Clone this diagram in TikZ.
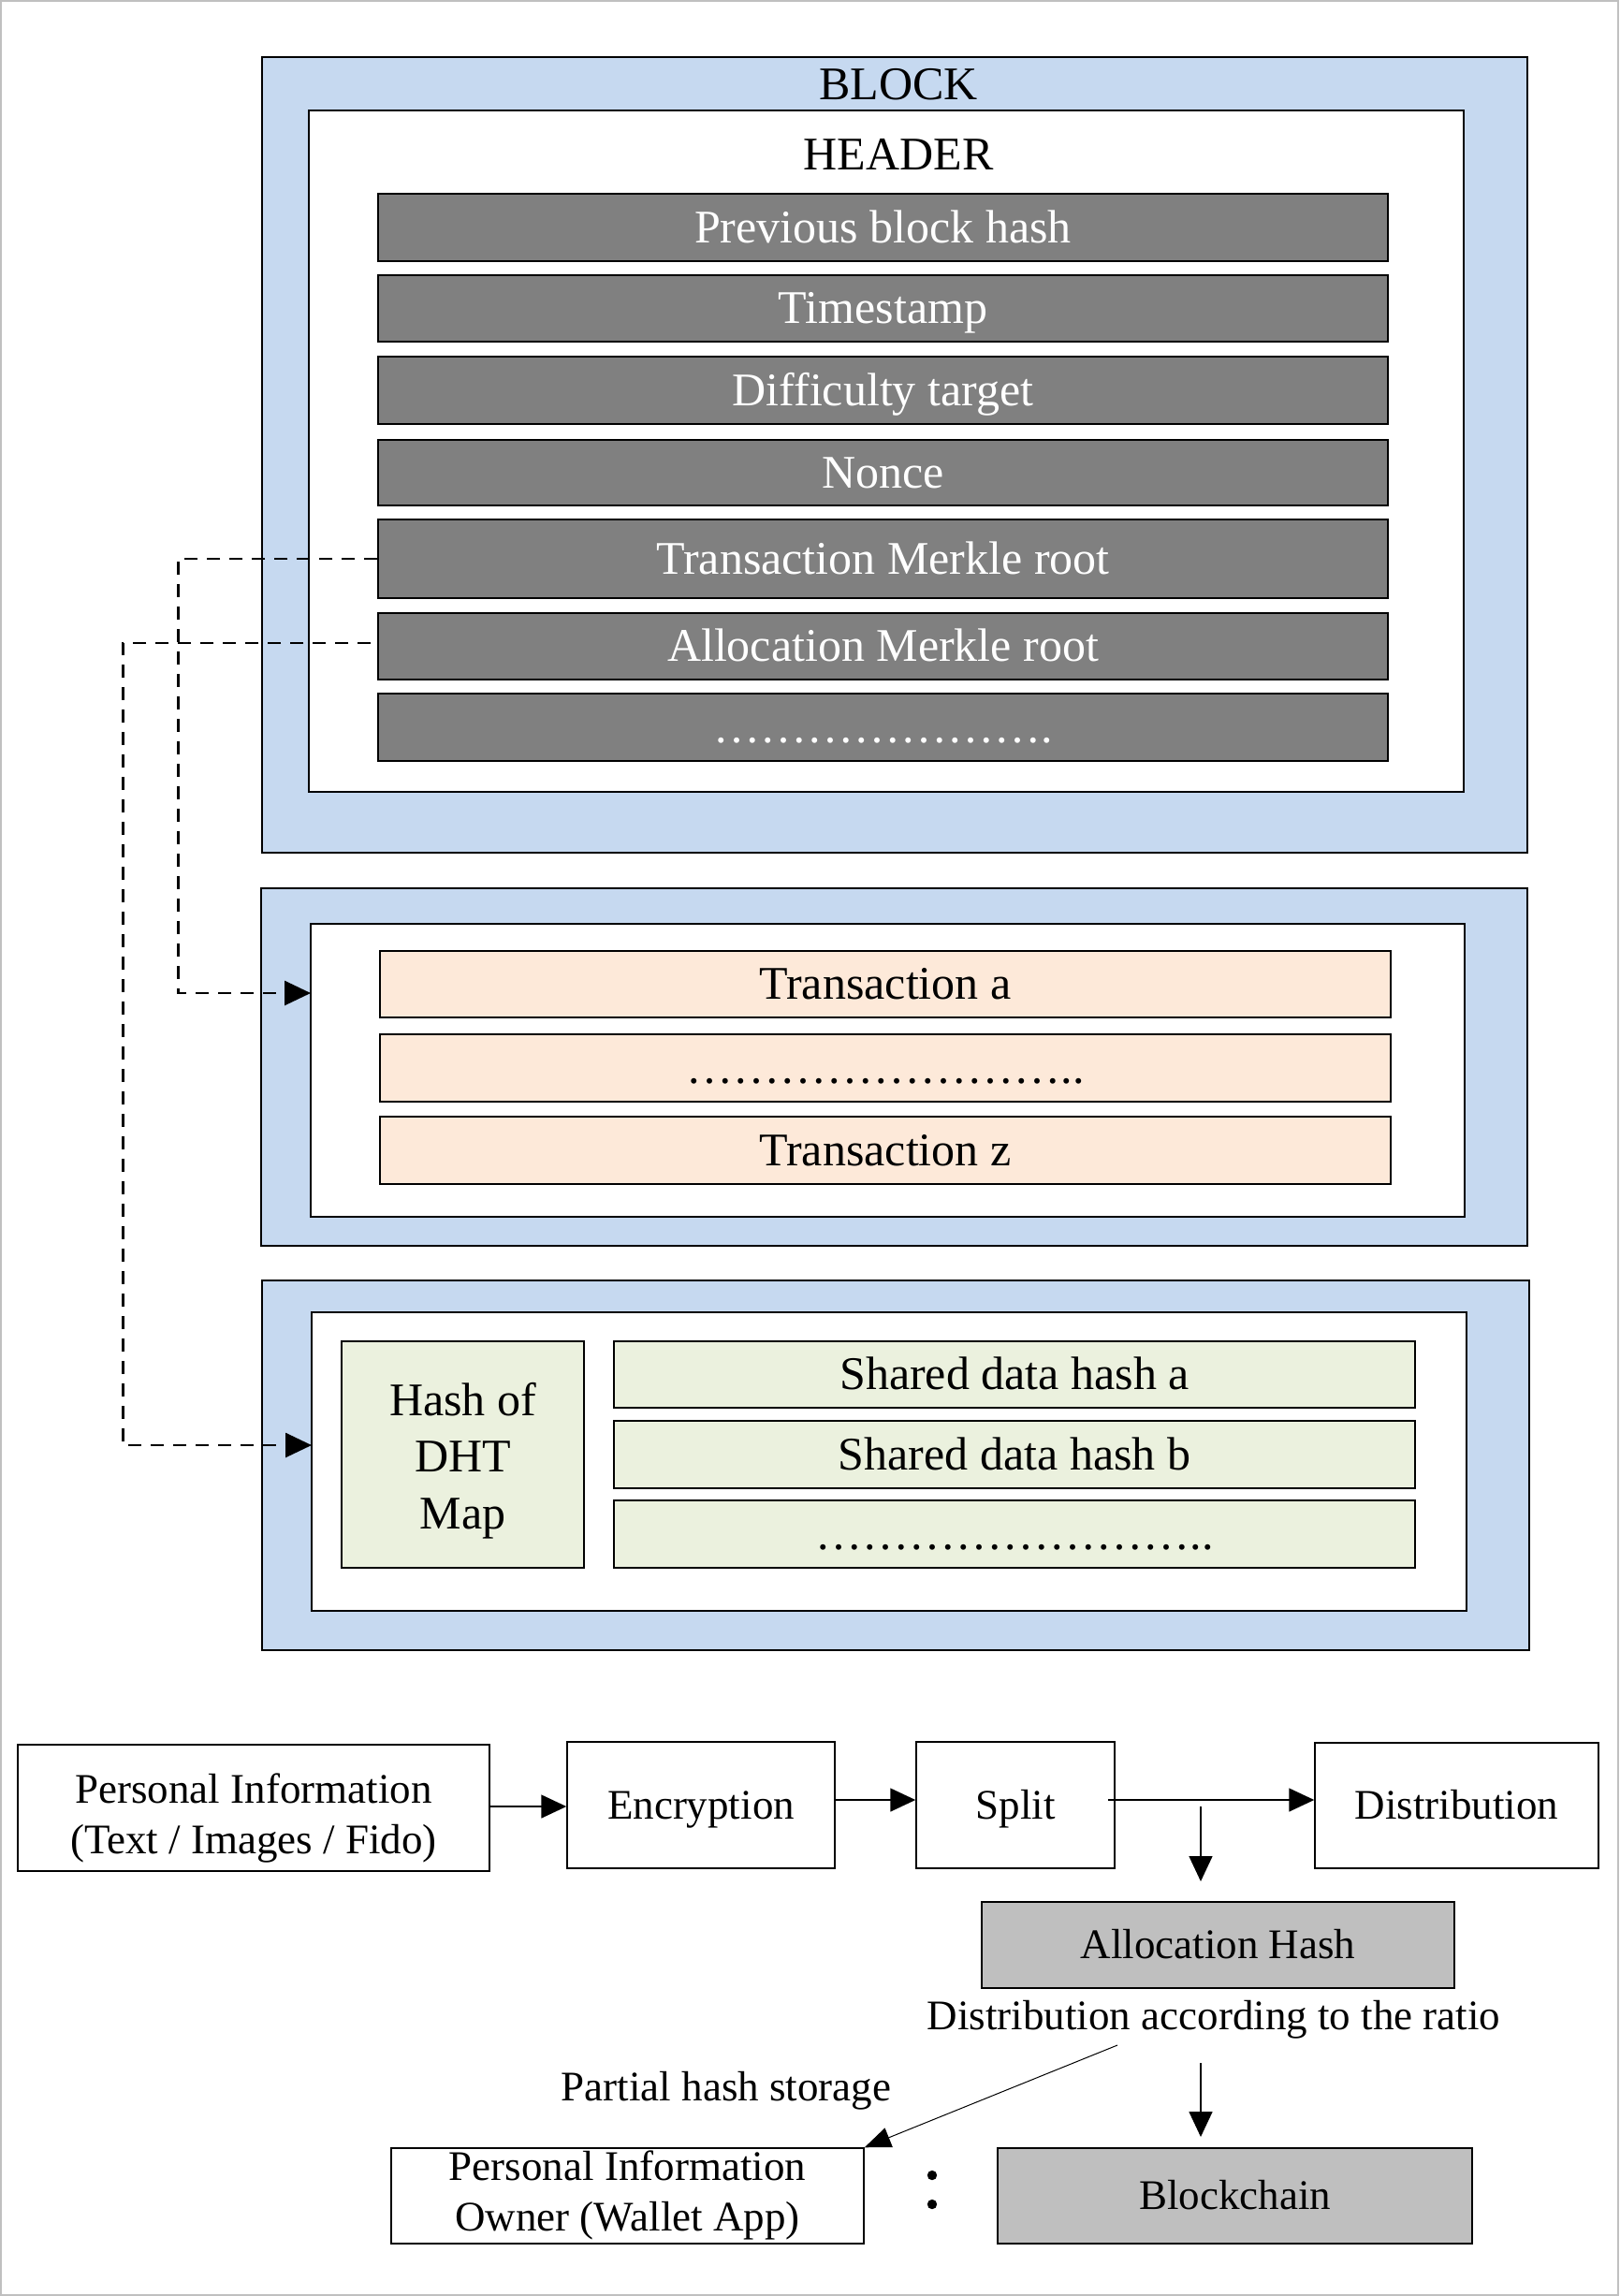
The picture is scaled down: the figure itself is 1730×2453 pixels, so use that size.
\documentclass[tikz,border=0pt]{standalone}
\usepackage{fontspec}
\setmainfont{Liberation Serif}
\usetikzlibrary{arrows.meta}
\definecolor{blockblue}{HTML}{C6D9F0}
\definecolor{rowgray}{HTML}{808080}
\definecolor{txorange}{HTML}{FDE9D9}
\definecolor{shgreen}{HTML}{EBF1DE}
\definecolor{boxgray}{HTML}{BFBFBF}
\definecolor{framegray}{HTML}{C0C0C0}
\newcommand{\myell}{\char"2026}
\begin{document}
\begin{tikzpicture}[x=0.5pt,y=-0.5pt,
 bigfont/.style={font=\fontsize{25}{30}\selectfont},
 smallfont/.style={font=\fontsize{22.5}{27}\selectfont},
 bigcap/.style={text height=16.4pt,text depth=0pt},
 smallcap/.style={text height=14.7pt,text depth=0pt},
 frame/.style={draw,line width=0.75pt,inner sep=0pt},
 outerblock/.style={frame,fill=blockblue},
 innerblock/.style={frame,fill=white},
 hdrrow/.style={frame,fill=rowgray,text=white,bigfont,bigcap,minimum width=539.5pt},
 txrow/.style={frame,fill=txorange,bigfont,bigcap,minimum width=540pt},
 shrow/.style={frame,fill=shgreen,bigfont,bigcap,minimum width=428pt},
 flowbox/.style={frame,smallfont,smallcap},
 graybox/.style={flowbox,fill=boxgray},
 dasharrow/.style={line width=1.4pt,dash pattern=on 7pt off 5pt,-{Triangle[length=14pt,width=13pt]}},
 flowarrow/.style={line width=0.75pt,-{Triangle[length=13.5pt,width=12.5pt]}},
 thinarrow/.style={line width=0.5pt,-{Triangle[length=14pt,width=11pt]}}
]
\useasboundingbox (0,0) rectangle (1730,2453);
\draw[framegray,line width=1pt] (1,1) rectangle (1729,2452);

% ---------- Block 1 : header ----------
\node[outerblock,minimum width=676pt,minimum height=425pt] (blk1) at (956,486) {};
\node[innerblock,minimum width=617pt,minimum height=364pt] (hdr) at (947,482) {};
\node[bigfont,anchor=base] (blocklbl) at (960,106) {BLOCK};
\node[bigfont,anchor=base] (hdrlbl) at (960,181) {HEADER};
\node[hdrrow,minimum height=36pt] (r1) at (943.5,243) {Previous block hash};
\node[hdrrow,minimum height=35.5pt] (r2) at (943.5,329.5) {Timestamp};
\node[hdrrow,minimum height=36pt] (r3) at (943.5,417) {Difficulty target};
\node[hdrrow,minimum height=35pt] (r4) at (943.5,505) {Nonce};
\node[hdrrow,minimum height=42pt] (r5) at (943.5,597) {Transaction Merkle root};
\node[hdrrow,minimum height=35.5pt] (r6) at (943.5,690.5) {Allocation Merkle root};
\node[hdrrow,minimum height=36pt] (r7) at (943.5,777) {\myell\myell\myell\myell\myell\myell\myell.};

% ---------- Block 2 : transactions ----------
\node[outerblock,minimum width=676.5pt,minimum height=191pt] (blk2) at (955.5,1140) {};
\node[innerblock,minimum width=616.5pt,minimum height=156.5pt] (tin) at (948.5,1143.5) {};
\node[txrow,minimum height=35.5pt] (ta) at (946,1051.5) {Transaction a};
\node[txrow,minimum height=36pt] (tdots) at (946,1141) {\myell\myell\myell\myell\myell\myell\myell\myell..};
\node[txrow,minimum height=36pt] (tz) at (946,1229) {Transaction z};

% ---------- Block 3 : shared data ----------
\node[outerblock,minimum width=677pt,minimum height=197.5pt] (blk3) at (957,1565.5) {};
\node[innerblock,minimum width=617pt,minimum height=159.5pt] (sin) at (950,1561.5) {};
\node[frame,fill=shgreen,minimum width=129.5pt,minimum height=121pt] (dht) at (494.5,1554) {};
\node[bigfont,anchor=base] (dht1) at (494.5,1512) {Hash of};
\node[bigfont,anchor=base] (dht2) at (494.5,1572) {DHT};
\node[bigfont,anchor=base] (dht3) at (494.5,1633) {Map};
\node[shrow,minimum height=35.5pt] (sa) at (1084,1468.5) {Shared data hash a};
\node[shrow,minimum height=36pt] (sb) at (1084,1554) {Shared data hash b};
\node[shrow,minimum height=36pt] (sdots) at (1084,1639) {\myell\myell\myell\myell\myell\myell\myell\myell..};

% ---------- dashed links ----------
\coordinate (tina) at (332,1061);
\coordinate (sina) at (333,1544);
\draw[dasharrow] (r5.west) -- ++(-213,0) |- (tina);
\draw[dasharrow] ([xshift=-3.5pt,yshift=1.75pt]r6.west) -- ++(-265,0) |- (sina);

% ---------- flow ----------
\node[flowbox,minimum width=252pt,minimum height=67.5pt] (pi) at (271,1931.5) {};
\node[smallfont,anchor=base] (pi1) at (271,1926) {Personal Information};
\node[smallfont,anchor=base] (pi2) at (271,1980) {(Text / Images / Fido)};
\node[flowbox,minimum width=143pt,minimum height=67.5pt] (enc) at (749,1928.5) {Encryption};
\node[flowbox,minimum width=106pt,minimum height=67.5pt] (split) at (1085,1928.5) {Split};
\node[flowbox,minimum width=151.5pt,minimum height=67pt] (dist) at (1556.5,1929) {Distribution};
\node[graybox,minimum width=252.5pt,minimum height=46pt] (alloc) at (1301.5,2078) {Allocation Hash};
\node[smallfont,anchor=base] (ratio) at (1297,2168) {Distribution according to the ratio};
\node[smallfont,anchor=base] (partial) at (776,2244) {Partial hash storage};
\node[flowbox,minimum width=252.5pt,minimum height=51pt] (pio) at (670.5,2346) {};
\node[smallfont,anchor=base] (pio1) at (670.5,2329.5) {Personal Information};
\node[smallfont,anchor=base] (pio2) at (670.5,2383) {Owner (Wallet App)};
\node[graybox,minimum width=253.5pt,minimum height=51pt] (chain) at (1319.5,2346) {Blockchain};

\draw[flowarrow] ([yshift=0.75pt]pi.east) -- ([yshift=-0.75pt]enc.west);
\draw[flowarrow] ([yshift=2.75pt]enc.east) -- ([yshift=2.75pt]split.west);
\draw[flowarrow] ([xshift=-4pt,yshift=2.75pt]split.east) -- ([yshift=3pt]dist.west);
\coordinate (d1s) at (1283,1930);
\coordinate (d1e) at (1283,2010);
\draw[flowarrow] (d1s) -- (d1e);
\coordinate (diags) at (1194,2185);
\draw[thinarrow] (diags) -- (pio.north east);
\coordinate (d2s) at (1283,2204);
\coordinate (d2e) at (1283,2283);
\draw[flowarrow] (d2s) -- (d2e);
\fill (996,2324) circle[radius=2.6pt];
\fill (996,2355) circle[radius=2.6pt];
\end{tikzpicture}
\end{document}
